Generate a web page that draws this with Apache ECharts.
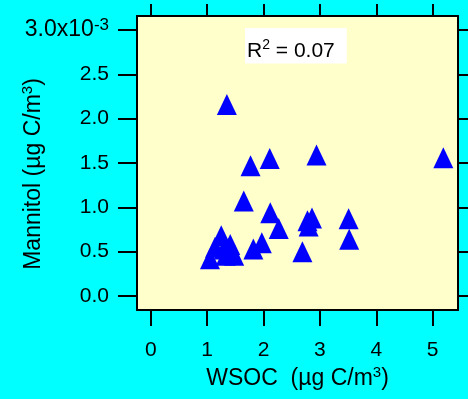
<!DOCTYPE html>
<html>
<head>
<meta charset="utf-8">
<script src="https://cdn.jsdelivr.net/npm/echarts@6/dist/echarts.min.js"></script>
<style>
  html, body { margin: 0; padding: 0; background: #00FFFF; }
  #chart { width: 468px; height: 399px; }
</style>
</head>
<body>
<div id="chart"></div>
<script>
// WSOC (µg C/m³) against mannitol (×10⁻³ µg C/m³)
const wsoc = [1.05, 1.14, 1.25, 1.33, 1.41, 1.48, 1.30, 1.65, 1.35, 1.77, 1.82, 1.97,
              2.11, 2.12, 2.27, 2.69, 2.78, 2.80, 2.86, 2.94, 3.51, 3.52, 5.19];
const mannitol = [0.42, 0.55, 0.68, 0.46, 0.58, 0.46, 0.53, 1.07, 2.16, 1.47, 0.53, 0.60,
                  1.55, 0.94, 0.76, 0.50, 0.85, 0.79, 0.88, 1.59, 0.87, 0.64, 1.56];
const xTicks = [0, 1, 2, 3, 4, 5];
const yTicks = [0, 0.5, 1.0, 1.5, 2.0, 2.5, 3.0];
const r2Text = '0.07';

const FONT = "'Liberation Sans', Arial, sans-serif";
const points = wsoc.map((x, i) => [x, mannitol[i]]);

const titleRich = {
  t: { fontSize: 23, fontFamily: FONT, fontWeight: 'normal', color: '#000' },
  s: { fontSize: 15, fontFamily: FONT, fontWeight: 'normal', color: '#000', padding: [0, 0, 12, 0] }
};

const axisLine = { show: true, onZero: false, lineStyle: { color: '#000', width: 2 } };
const tickStyle = { color: '#000000', width: 2 };
const xBase = { type: 'value', min: -0.244, max: 5.45, splitLine: { show: false }, axisLine };
const yBase = { type: 'value', min: -0.158, max: 3.158, splitLine: { show: false }, axisLine };

const chart = echarts.init(document.getElementById('chart'), null, { renderer: 'canvas' });
chart.setOption({
  backgroundColor: '#00FFFF',
  animation: false,
  title: {
    text: '{r|R}{s|2}{r| = ' + r2Text + '}',
    left: 245, top: 28,
    backgroundColor: '#FFFFFF',
    padding: [10, 12, 2, 2],
    textStyle: {
      fontWeight: 'normal',
      rich: {
        r: { fontSize: 21, fontFamily: FONT, fontWeight: 'normal', color: '#000' },
        s: { fontSize: 14, fontFamily: FONT, fontWeight: 'normal', color: '#000', padding: [0, 0, 12, 0] }
      }
    }
  },
  grid: {
    left: 137, right: 10, top: 16, bottom: 89,
    containLabel: false, outerBoundsMode: 'none',
    show: true, backgroundColor: '#FFFFCC', borderWidth: 0
  },
  xAxis: [
    Object.assign({}, xBase, {
      position: 'bottom',
      axisTick: { show: true, inside: false, length: 16, customValues: xTicks, lineStyle: tickStyle },
      axisLabel: { show: true, customValues: xTicks, margin: 30,
                   fontSize: 21, fontFamily: FONT, color: '#000',
                   formatter: v => String(v) },
      name: '{t|WSOC  (µg C/m}{s|3}{t|)}',
      nameLocation: 'middle', nameGap: 55, nameMoveOverlap: false,
      nameTextStyle: { rich: titleRich }
    }),
    Object.assign({}, xBase, {
      position: 'top',
      axisTick: { show: true, inside: false, length: 12, customValues: xTicks, lineStyle: tickStyle },
      axisLabel: { show: false }
    })
  ],
  yAxis: [
    Object.assign({}, yBase, {
      position: 'left',
      axisTick: { show: true, inside: false, length: 19, customValues: yTicks, lineStyle: tickStyle },
      axisLabel: {
        show: true, customValues: yTicks, margin: 28,
        fontSize: 21, fontFamily: FONT, color: '#000',
        formatter: v => v === 3 ? '{n|3.0x10}{e|-3}' : v.toFixed(1),
        rich: {
          n: { fontSize: 23, fontFamily: FONT, color: '#000' },
          e: { fontSize: 17, fontFamily: FONT, color: '#000', padding: [0, 0, 10, 0] }
        }
      },
      name: '{t|Mannitol (µg C/m}{s|3}{t|)}',
      nameLocation: 'middle', nameGap: 90, nameRotate: 90, nameMoveOverlap: false,
      nameTextStyle: { rich: titleRich, padding: [0, 22, 0, 0] }
    }),
    Object.assign({}, yBase, {
      position: 'right',
      axisTick: { show: true, inside: false, length: 12, customValues: yTicks, lineStyle: tickStyle },
      axisLabel: { show: false }
    })
  ],
  series: [{
    type: 'scatter',
    xAxisIndex: 0, yAxisIndex: 0,
    data: points,
    symbol: 'triangle',
    symbolSize: [20, 21],
    itemStyle: { color: '#0000FF', opacity: 1 }
  }]
});
</script>
</body>
</html>
